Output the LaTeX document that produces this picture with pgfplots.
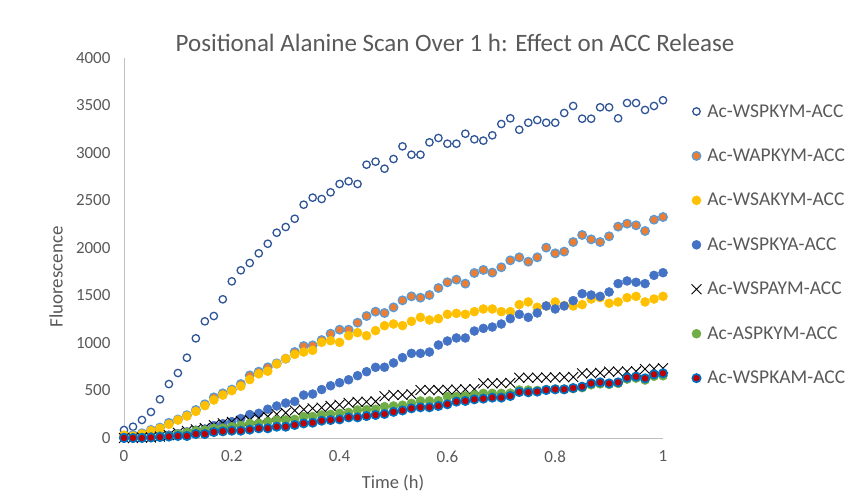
\documentclass[border=0pt]{standalone}
\usepackage{pgfplots}
\usepackage{pgfplotstable}
\usepackage{fontspec}
\setmainfont{Carlito}
\pgfplotsset{compat=1.18}

\definecolor{txtgray}{HTML}{595959}
\definecolor{axgray}{HTML}{BFBFBF}
\definecolor{navyring}{HTML}{2F5597}
\definecolor{xlorange}{HTML}{ED7D31}
\definecolor{xllightblue}{HTML}{5B9BD5}
\definecolor{xlgold}{HTML}{FFC000}
\definecolor{xlblue}{HTML}{4472C4}
\definecolor{xlgreen}{HTML}{70AD47}
\definecolor{xlred}{HTML}{C00000}
\definecolor{xlbrightblue}{HTML}{0070C0}

% fluorescence readings, one row per minute (t in hours)
\pgfplotstableread{
t      WSPKYM WAPKYM WSAKYM WSPKYA WSPAYM ASPKYM WSPKAM
0      84     20     30     5      0      0      0
0.0167 119    30     20     0      0      0      0
0.0333 190    50     42     5      5      5      0
0.05   274    85     77     10     5      10     5
0.0667 407    110    102    15     15     21     10
0.0833 568    160    144    30     30     21     15
0.1    684    195    189    45     55     42     21
0.1167 845    240    231    65     75     60     21
0.1333 1049   295    280    82     90     77     42
0.15   1228   355    340    95     105    84     42
0.1667 1284   428    400    130    135    102    63
0.1833 1460   470    452    150    155    105    70
0.2    1649   510    498    172    170    119    77
0.2167 1765   568    545    205    180    133    77
0.2333 1842   659    615    247    190    154    88
0.25   1944   698    675    260    210    154    102
0.2667 2045   744    703    303    225    172    102
0.2833 2161   786    779    337    250    189    119
0.3    2221   835    835    368    265    190    119
0.3167 2308   905    880    385    290    196    137
0.3333 2456   968    905    452    300    224    154
0.35   2530   975    923    463    312    226    161
0.3667 2516   1031   1007   510    320    242    182
0.3833 2586   1098   1024   550    337    249    189
0.4    2674   1140   1007   582    350    260    196
0.4167 2702   1140   1077   613    370    270    217
0.4333 2674   1214   1109   656    380    295    217
0.45   2877   1284   1077   698    382    298    231
0.4667 2909   1330   1130   744    385    302    242
0.4833 2835   1316   1182   745    440    330    253
0.5    2937   1375   1200   790    453    337    275
0.5167 3070   1449   1183   846    453    345    290
0.5333 2982   1491   1228   891    460    365    312
0.55   2982   1477   1270   891    505    390    323
0.5667 3112   1505   1242   905    505    390    323
0.5833 3158   1579   1256   979    505    393    337
0.6    3098   1639   1302   1021   508    435    355
0.6167 3098   1667   1312   1053   510    435    383
0.6333 3203   1625   1302   1053   512    442    390
0.65   3144   1737   1330   1126   515    453    407
0.6667 3130   1769   1358   1154   575    470    414
0.6833 3186   1741   1358   1168   575    470    425
0.7    3305   1797   1330   1200   578    470    425
0.7167 3365   1870   1330   1256   580    472    442
0.7333 3245   1902   1404   1302   635    505    484
0.75   3319   1856   1432   1270   635    505    481
0.7667 3347   1902   1376   1316   635    500    488
0.7833 3319   2004   1390   1390   637    510    505
0.8    3319   1944   1432   1358   638    515    512
0.8167 3421   1962   1395   1390   640    515    512
0.8333 3495   2063   1390   1446   642    520    526
0.85   3361   2137   1404   1519   681    530    540
0.8667 3361   2091   1463   1505   681    560    575
0.8833 3481   2063   1477   1491   685    570    586
0.9    3481   2123   1418   1537   698    565    575
0.9167 3365   2225   1432   1625   698    575    586
0.9333 3526   2256   1477   1653   700    620    635
0.95   3526   2239   1491   1639   702    630    646
0.9667 3453   2179   1432   1625   726    610    628
0.9833 3495   2298   1463   1712   728    650    670
1      3555   2326   1491   1740   735    655    681
}\scan

\begin{document}
\begin{tikzpicture}[x=1pt,y=1pt]
\path[use as bounding box] (0,0) rectangle (850,493);

\begin{axis}[
  at={(124pt,55pt)}, anchor=south west,
  scale only axis, width=539pt, height=380pt,
  xmin=0, xmax=1, ymin=0, ymax=4000,
  xtick={0,0.2,0.4,0.6,0.8,1},
  xticklabels={0,0.2,0.4,0.6,0.8,1},
  ytick={0,500,...,4000},
  axis x line*=bottom, axis y line*=left,
  axis line style={axgray, line width=0.9pt, -},
  major tick length=0pt,
  tick label style={font=\fontsize{17}{20}\selectfont, text=txtgray},
  /pgf/number format/assume math mode=true,
  /pgf/number format/1000 sep={},
  yticklabel style={xshift=-10pt},
  xticklabel style={yshift=-9pt},
  clip=false,
  legend cell align=left,
  legend style={at={(1.047,0.889)}, anchor=north west, draw=none, fill=none,
    font=\fontsize{19.5}{23}\selectfont, text=txtgray, row sep=26.3pt,
    /tikz/every odd column/.append style={column sep=4pt}},
  legend image code/.code={\draw[mark repeat=2,mark phase=2,#1]
    plot coordinates {(0pt,0pt)(4pt,0pt)(8pt,0pt)};},
]
\addplot[only marks, mark=*, mark size=3.7pt, draw=navyring, fill=white, line width=1.3pt]
  table[x=t, y=WSPKYM] {\scan};
\addlegendentry{Ac-WSPKYM-ACC}
\addplot[only marks, mark=*, mark size=4.3pt, draw=xllightblue, fill=xlorange, line width=1.3pt]
  table[x=t, y=WAPKYM] {\scan};
\addlegendentry{Ac-WAPKYM-ACC}
\addplot[only marks, mark=*, mark size=4.5pt, draw=xlgold, fill=xlgold, line width=0.5pt]
  table[x=t, y=WSAKYM] {\scan};
\addlegendentry{Ac-WSAKYM-ACC}
\addplot[only marks, mark=*, mark size=4.5pt, draw=xlblue, fill=xlblue, line width=0.5pt]
  table[x=t, y=WSPKYA] {\scan};
\addlegendentry{Ac-WSPKYA-ACC}
\addplot[only marks, mark=x, mark size=7pt, draw=black, line width=0.9pt]
  table[x=t, y=WSPAYM] {\scan};
\addlegendentry{Ac-WSPAYM-ACC}
\addplot[only marks, mark=*, mark size=4.5pt, draw=xlgreen, fill=xlgreen, line width=0.5pt]
  table[x=t, y=ASPKYM] {\scan};
\addlegendentry{Ac-ASPKYM-ACC}
\addplot[only marks, mark=*, mark size=4.2pt, draw=xlbrightblue, fill=xlred, line width=1.6pt]
  table[x=t, y=WSPKAM] {\scan};
\addlegendentry{Ac-WSPKAM-ACC}
\end{axis}

\node[text=txtgray, font=\fontsize{25}{29}\selectfont] at (455,450)
  {Positional Alanine Scan Over 1 h: Effect on ACC Release};
\node[text=txtgray, font=\fontsize{19}{22}\selectfont, rotate=90] at (56,216) {Fluorescence};
\node[text=txtgray, font=\fontsize{18.5}{22}\selectfont] at (393,10) {Time (h)};
\end{tikzpicture}
\end{document}
